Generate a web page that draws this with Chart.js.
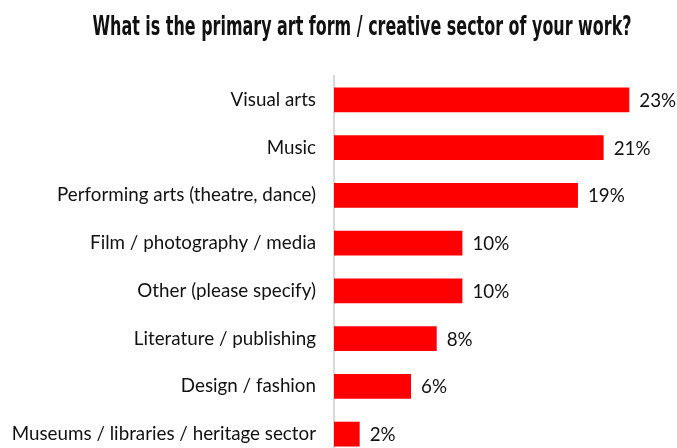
<!DOCTYPE html>
<html>
<head>
<meta charset="utf-8">
<script src="https://cdn.jsdelivr.net/npm/chart.js@4"></script>
<style>
  html, body { margin: 0; padding: 0; background: #fff; overflow: hidden; }
  canvas { display: block; }
</style>
</head>
<body>
<canvas id="chart" width="677" height="458"></canvas>
<script>
// Survey answers: primary art form / creative sector
const categories = [
  "Visual arts",
  "Music",
  "Performing arts (theatre, dance)",
  "Film / photography / media",
  "Other (please specify)",
  "Literature / publishing",
  "Design / fashion",
  "Museums / libraries / heritage sector"
];
const shares = [23, 21, 19, 10, 10, 8, 6, 2];
const chartTitle = "What is the primary art form / creative sector of your work?";

const labelFont = "'Lato', 'Open Sans', sans-serif";
const titleFont = "bold 27px 'Liberation Sans Narrow', 'DejaVu Sans Condensed', sans-serif";

// Condensed heading across the top, squeezed to a fixed width
const heading = {
  id: "heading",
  afterDraw(chart) {
    const ctx = chart.ctx;
    ctx.save();
    ctx.font = titleFont;
    ctx.fillStyle = "#111";
    ctx.textAlign = "center";
    ctx.textBaseline = "middle";
    const w = ctx.measureText(chartTitle).width;
    const sx = 539 / w;
    ctx.translate(362, 28);
    ctx.scale(sx, 1);
    ctx.fillText(chartTitle, 0, 0);
    ctx.restore();
  }
};

// Writes "n%" just past the end of each bar
const valueLabels = {
  id: "valueLabels",
  afterDatasetsDraw(chart) {
    const ctx = chart.ctx;
    const meta = chart.getDatasetMeta(0);
    ctx.save();
    ctx.font = "18.8px " + labelFont;
    ctx.fillStyle = "#111";
    ctx.textAlign = "left";
    ctx.textBaseline = "middle";
    meta.data.forEach((bar, i) => {
      ctx.fillText(shares[i] + "%", bar.x + 10, bar.y + 1);
    });
    ctx.restore();
  }
};

new Chart(document.getElementById("chart"), {
  type: "bar",
  data: {
    labels: categories,
    datasets: [{
      data: shares,
      backgroundColor: "#ff0000",
      borderWidth: 0,
      categoryPercentage: 1,
      barPercentage: 0.52
    }]
  },
  plugins: [valueLabels, heading],
  options: {
    indexAxis: "y",
    responsive: false,
    animation: false,
    layout: { padding: { left: 0, right: 22, top: 76, bottom: 0 } },
    plugins: {
      legend: { display: false },
      tooltip: { enabled: false },
      title: { display: false }
    },
    scales: {
      x: {
        display: false,
        min: 0,
        max: 25
      },
      y: {
        afterFit(scale) {
          scale.width = 334;
          scale.paddingTop = 0;
          scale.paddingBottom = 0;
        },
        grid: { display: false, drawTicks: false },
        border: { display: true, color: "#d9d9d9", width: 2 },
        ticks: {
          color: "#111",
          padding: 18,
          font: { family: labelFont, size: 18.8 }
        }
      }
    }
  }
});
</script>
</body>
</html>
